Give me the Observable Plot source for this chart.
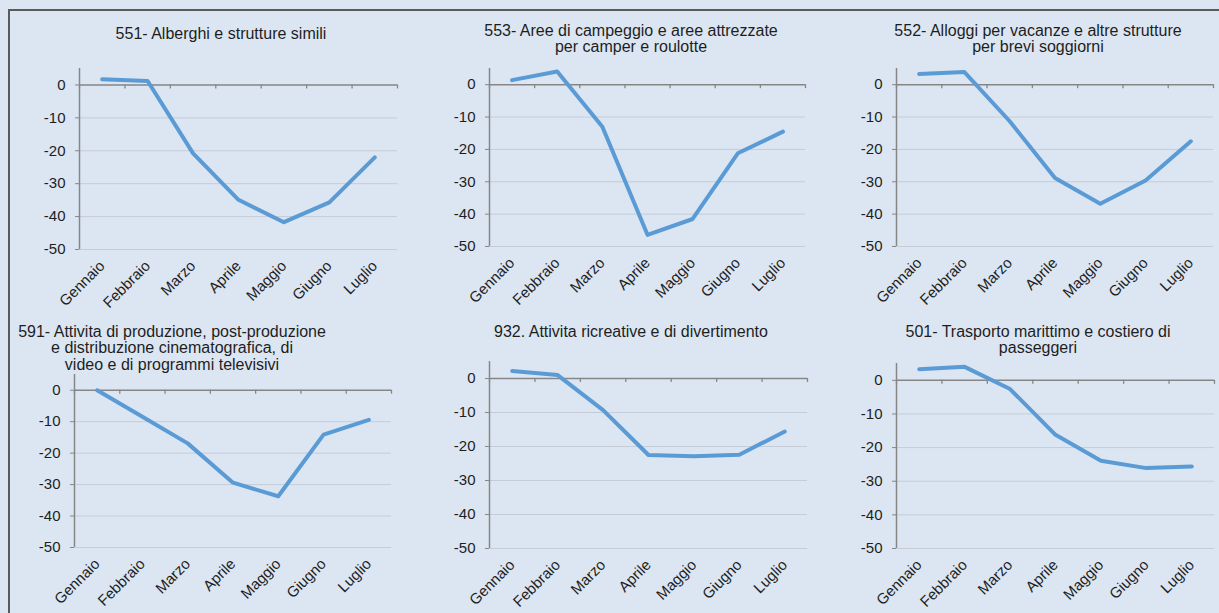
<!DOCTYPE html>
<html><head><meta charset="utf-8">
<script src="https://cdn.jsdelivr.net/npm/d3@7"></script>
<script src="https://cdn.jsdelivr.net/npm/@observablehq/plot@0.6"></script>
<style>
html,body{margin:0;padding:0;width:1219px;height:613px;overflow:hidden;background:#dce6f2;font-family:"Liberation Sans",Arial,sans-serif;}
#frame{position:absolute;left:8px;top:9px;width:1300px;height:700px;border-top:2px solid #5a5a5a;border-left:2px solid #5a5a5a;box-sizing:border-box;}
.panel{position:absolute;}
.title{position:absolute;width:420px;text-align:center;font-size:16px;line-height:16.5px;color:#1e1e1e;white-space:nowrap;}
</style></head><body>
<div id="frame"></div>
<div id="root"></div>
<script>
// ---- data ----
const months = ["Gennaio","Febbraio","Marzo","Aprile","Maggio","Giugno","Luglio"];
const yTicks = [0, -10, -20, -30, -40, -50];

const alberghi551   = [1.7, 1.2, -20.8, -34.9, -41.7, -35.7, -22.0];
const campeggio553  = [1.4, 4.1, -13.0, -46.4, -41.5, -21.2, -14.5];
const alloggi552    = [3.3, 3.9, -11.3, -28.8, -36.8, -29.6, -17.5];
const cinema591     = [0.0, -8.4, -16.9, -29.4, -33.7, -14.1, -9.4];
const ricreative932 = [2.2, 1.0, -9.3, -22.5, -22.9, -22.4, -15.6];
const marittimo501  = [3.3, 4.0, -2.6, -16.2, -23.9, -26.1, -25.6];

const titles551 = ["551- Alberghi e strutture simili"];
const titles553 = ["553- Aree di campeggio e aree attrezzate", "per camper e roulotte"];
const titles552 = ["552- Alloggi per vacanze e altre strutture", "per brevi soggiorni"];
const titles591 = ["591- Attivita di produzione, post-produzione", "e distribuzione cinematografica, di", "video e di programmi televisivi"];
const titles932 = ["932. Attivita ricreative e di divertimento"];
const titles501 = ["501- Trasporto marittimo e costiero di", "passeggeri"];

// ---- layout (plot-area frame in page pixels) ----
const panels = [
  {values: alberghi551,   title: titles551, left: 79,  right: 397,  top: 68,  bottom: 249, tx: 221,  ty: 34},
  {values: campeggio553,  title: titles553, left: 489, right: 805,  top: 68,  bottom: 246, tx: 631,  ty: 31},
  {values: alloggi552,    title: titles552, left: 896, right: 1213, top: 68,  bottom: 246, tx: 1038, ty: 31},
  {values: cinema591,     title: titles591, left: 74,  right: 391,  top: 374, bottom: 547, tx: 172,  ty: 332},
  {values: ricreative932, title: titles932, left: 489, right: 807,  top: 361, bottom: 548, tx: 631,  ty: 332},
  {values: marittimo501,  title: titles501, left: 896, right: 1214, top: 363, bottom: 548, tx: 1038, ty: 332}
];

const lineColor = "#5b9bd5";
const axisColor = "#868686";
const gridColor = "#c5ccd6";
const root = document.getElementById("root");
const ML = 60, MT = 10, MR = 10, MB = 75;

for (const p of panels) {
  const data = months.map((m, i) => ({i, month: m, v: p.values[i]}));
  const bounds = months.map((_, i) => i - 0.5).concat([months.length - 0.5]);
  const chart = Plot.plot({
    width: (p.right - p.left) + ML + MR,
    height: (p.bottom - p.top) + MT + MB,
    marginLeft: ML, marginTop: MT, marginRight: MR, marginBottom: MB,
    style: {background: "transparent", fontFamily: '"Liberation Sans", Arial, sans-serif', fontSize: "15px", color: "#1e1e1e", overflow: "visible"},
    x: {type: "linear", domain: [-0.5, months.length - 0.5]},
    y: {domain: [-50, 5]},
    marks: [
      Plot.ruleY(yTicks.filter(d => d !== 0), {stroke: gridColor, strokeWidth: 1}),
      Plot.ruleY([0], {stroke: axisColor, strokeWidth: 1.5}),
      Plot.ruleX(bounds, {y1: 0, y2: 0, insetBottom: -4, stroke: axisColor, strokeWidth: 1.3}),
      Plot.ruleX([-0.5], {stroke: axisColor, strokeWidth: 1.5}),
      Plot.axisY({ticks: yTicks, tickSize: 4, tickPadding: 10, tickFormat: d => String(d), stroke: axisColor, label: null}),
      Plot.axisX({ticks: months.map((_, i) => i), tickSize: 0, tickPadding: 14, tickRotate: -45, tickFormat: i => months[i], label: null}),
      Plot.line(data, {x: "i", y: "v", stroke: lineColor, strokeWidth: 4, strokeLinejoin: "round", strokeLinecap: "round"})
    ]
  });
  chart.classList.add("panel");
  chart.style.left = (p.left - ML) + "px";
  chart.style.top = (p.top - MT) + "px";
  root.appendChild(chart);

  const t = document.createElement("div");
  t.className = "title";
  t.style.left = (p.tx - 210) + "px";
  t.style.top = (p.ty - 8.25) + "px";
  t.innerHTML = p.title.map(s => s.replace(/&/g, "&amp;")).join("<br>");
  root.appendChild(t);
}
</script>
</body></html>
